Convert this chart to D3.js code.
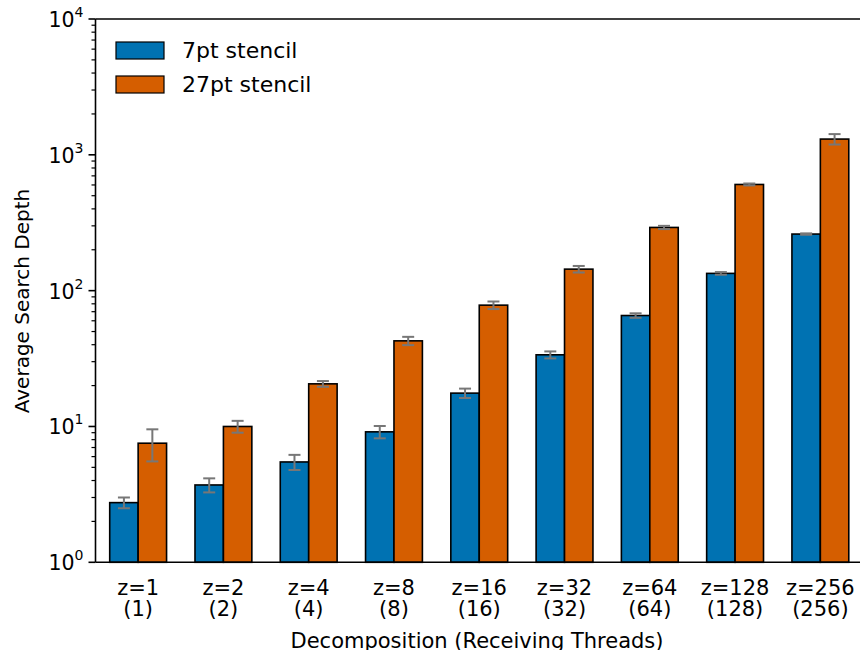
<!DOCTYPE html>
<html>
<head>
<meta charset="utf-8">
<script src="https://cdn.jsdelivr.net/npm/d3@7"></script>
<style>
  body { margin: 0; background: #fff; }
  svg { display: block; font-family: "DejaVu Sans", sans-serif; }
</style>
</head>
<body>
<div id="chart"></div>
<script>
// values
const categories = ["z=1", "z=2", "z=4", "z=8", "z=16", "z=32", "z=64", "z=128", "z=256"];
const threads = ["(1)", "(2)", "(4)", "(8)", "(16)", "(32)", "(64)", "(128)", "(256)"];
const stencil7 = [2.75, 3.71, 5.48, 9.13, 17.6, 33.7, 65.6, 134, 261];
const stencil7Err = [0.25, 0.44, 0.7, 0.95, 1.4, 2, 2.5, 3, 3];
const stencil27 = [7.53, 10.0, 20.6, 42.7, 78.2, 144, 292, 605, 1306];
const stencil27Err = [2.0, 1.0, 1.0, 3, 5, 8, 8, 10, 115];
const seriesNames = ["7pt stencil", "27pt stencil"];
const seriesColors = ["#0072B2", "#D55E00"];
const yMajor = [1, 10, 100, 1000, 10000];

const width = 860, height = 650;
const pLeft = 95.5, pRight = 863, pTop = 19, pBottom = 562.3;

const svg = d3.select("#chart").append("svg")
    .attr("width", width)
    .attr("height", height);

const x = d3.scaleLinear().domain([-0.5, categories.length - 0.5]).range([pLeft, pRight]);
const y = d3.scaleLog().domain([1, 10000]).range([pBottom, pTop]);
const barW = 1 / 3;

const series = [
    { vals: stencil7, errs: stencil7Err, off: -barW },
    { vals: stencil27, errs: stencil27Err, off: 0 }
];

// bars
series.forEach((s, si) => {
    svg.append("g")
        .selectAll("rect")
        .data(s.vals)
        .enter()
        .append("rect")
        .attr("x", (d, i) => x(i + s.off))
        .attr("y", d => y(d))
        .attr("width", (d, i) => x(i + s.off + barW) - x(i + s.off))
        .attr("height", d => y(1) - y(d))
        .style("fill", seriesColors[si])
        .style("stroke", "#000")
        .style("stroke-width", 1.6);
});

// error bars
series.forEach(s => {
    const g = svg.append("g").style("stroke", "#777").style("stroke-width", 2);
    s.vals.forEach((v, i) => {
        const cx = x(i + s.off + barW / 2);
        const lo = y(v - s.errs[i]), hi = y(v + s.errs[i]);
        g.append("line").attr("x1", cx).attr("x2", cx).attr("y1", lo).attr("y2", hi);
        g.append("line").attr("x1", cx - 6).attr("x2", cx + 6).attr("y1", lo).attr("y2", lo);
        g.append("line").attr("x1", cx - 6).attr("x2", cx + 6).attr("y1", hi).attr("y2", hi);
    });
});

// spines
svg.append("line").attr("x1", pLeft).attr("x2", pRight).attr("y1", pTop).attr("y2", pTop)
    .style("stroke", "#000").style("stroke-width", 1.6);
svg.append("line").attr("x1", pLeft).attr("x2", pRight).attr("y1", pBottom).attr("y2", pBottom)
    .style("stroke", "#000").style("stroke-width", 1.6);
svg.append("line").attr("x1", pLeft).attr("x2", pLeft).attr("y1", pTop).attr("y2", pBottom)
    .style("stroke", "#000").style("stroke-width", 1.6);

// y axis ticks
const minor = [];
for (let dec = 1; dec < 10000; dec *= 10) {
    for (let k = 2; k <= 9; k++) minor.push(dec * k);
}
const yAxis = svg.append("g");
yAxis.selectAll(".minor").data(minor).enter().append("line")
    .attr("x1", pLeft - 4).attr("x2", pLeft)
    .attr("y1", d => y(d)).attr("y2", d => y(d))
    .style("stroke", "#000").style("stroke-width", 1.2);
yAxis.selectAll(".major").data(yMajor).enter().append("line")
    .attr("x1", pLeft - 7).attr("x2", pLeft)
    .attr("y1", d => y(d)).attr("y2", d => y(d))
    .style("stroke", "#000").style("stroke-width", 1.6);
const lbl = yAxis.selectAll(".lbl").data(yMajor).enter().append("text")
    .attr("x", pLeft - 12)
    .attr("y", d => y(d) + 8)
    .attr("text-anchor", "end")
    .style("font-size", "20.5px");
lbl.append("tspan").text("10");
lbl.append("tspan").attr("dy", -10).style("font-size", "14px").text(d => Math.round(Math.log10(d)));

// x axis ticks
const xAxis = svg.append("g");
categories.forEach((c, i) => {
    const t = xAxis.append("text")
        .attr("x", x(i))
        .attr("text-anchor", "middle")
        .style("font-size", "21px");
    t.append("tspan").attr("x", x(i)).attr("y", 595).text(c);
    t.append("tspan").attr("x", x(i)).attr("y", 616).text(threads[i]);
});

// axis titles
svg.append("text")
    .attr("x", 477)
    .attr("y", 648)
    .attr("text-anchor", "middle")
    .style("font-size", "21px")
    .text("Decomposition (Receiving Threads)");
svg.append("text")
    .attr("transform", "translate(29," + 301 + ") rotate(-90)")
    .attr("text-anchor", "middle")
    .style("font-size", "20px")
    .text("Average Search Depth");

// legend
const legend = svg.append("g");
seriesNames.forEach((n, i) => {
    legend.append("rect")
        .attr("x", 116).attr("y", 42 + i * 34)
        .attr("width", 48).attr("height", 17)
        .style("fill", seriesColors[i])
        .style("stroke", "#000").style("stroke-width", 1.2);
    legend.append("text")
        .attr("x", 182).attr("y", 58 + i * 34)
        .style("font-size", "22px")
        .text(n);
});
</script>
</body>
</html>
